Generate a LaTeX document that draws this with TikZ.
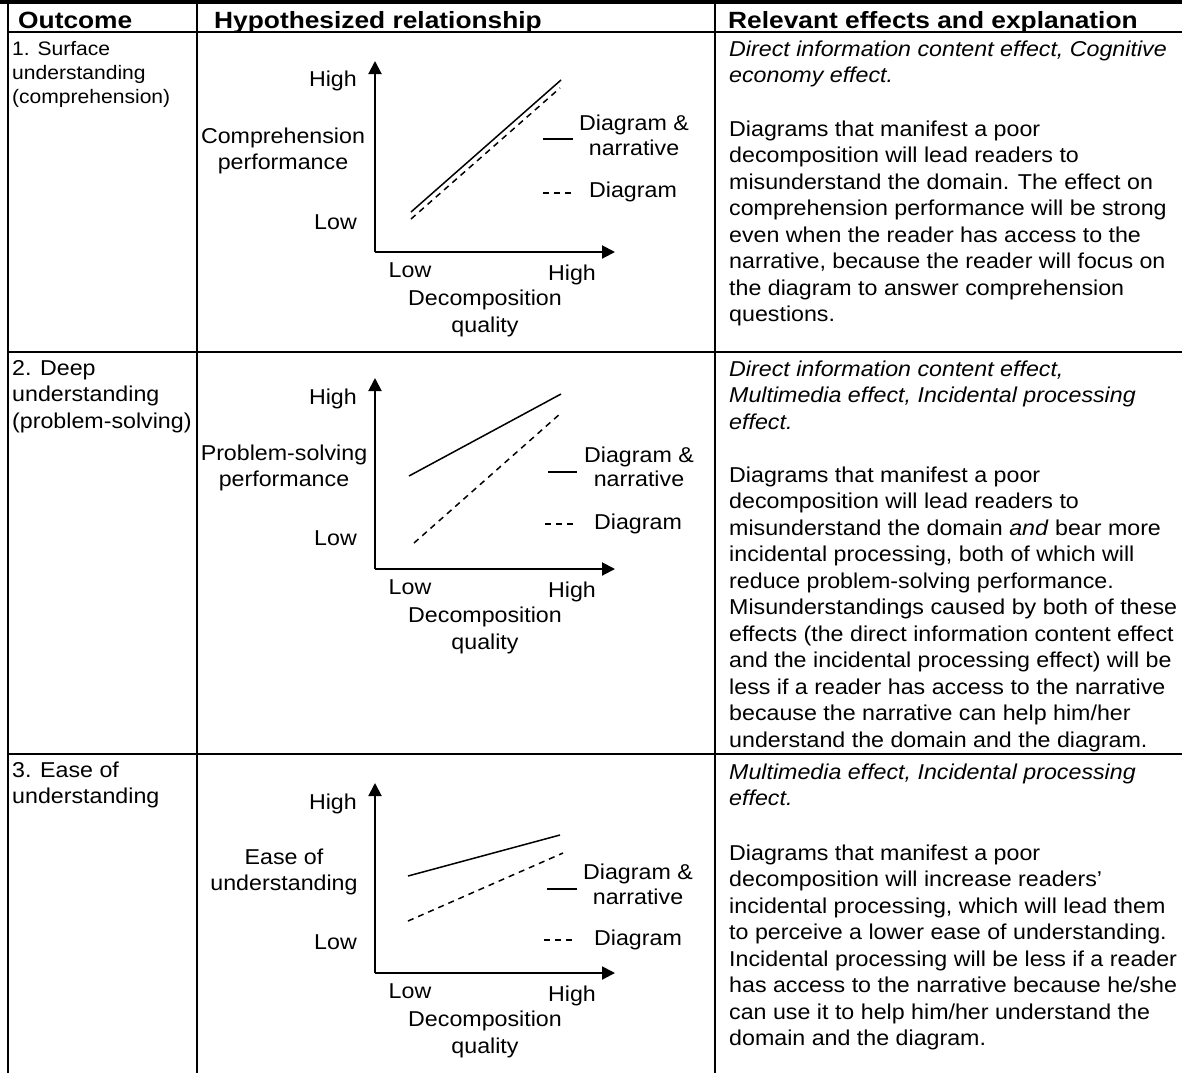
\documentclass[tikz,border=0pt]{standalone}
\usepackage{fontspec}
\setmainfont[FakeStretch=1.08]{Liberation Sans}
\newfontfamily\headfamily[FakeStretch=1.12]{Liberation Sans}
\usetikzlibrary{arrows.meta}

\newcommand\bodysize{\fontsize{21.5pt}{26.5pt}\selectfont}
\newcommand\smallsize{\fontsize{19.5pt}{24pt}\selectfont}
\newcommand\rowskip{26.5}

% one node per printed line, baselines #4 apart
\newcommand\textrows[6]{%
  \foreach \row [count=\k from 0] in {#6}{
    \node[bodytext,#5,anchor=base west] (#1\k) at (#2,{#3+\k*#4}) {\row};
  }}

\tikzset{
  bodytext/.style={font=\bodysize, inner sep=0pt, text=black},
  headtext/.style={font=\headfamily\bfseries\fontsize{23.5pt}{27pt}\selectfont, inner sep=0pt, anchor=base west},
  rule/.style={line width=2pt, line cap=rect},
  axis/.style={line width=2pt, -{Triangle[length=13pt,width=13pt]}},
  trend/.style={line width=1.5pt},
  trenddash/.style={line width=1.5pt, dash pattern=on 6pt off 5pt},
  lab/.style={bodytext, anchor=base},
  labr/.style={bodytext, anchor=base east},
}

% one small plot: #1 prefix, #2 origin y, #3 y-axis tip y
\newcommand\plotframe[3]{%
  \coordinate (#1o) at (375,#2);
  \coordinate (#1y) at (375,#3);
  \coordinate (#1x) at (615,#2);
  \draw[axis] (#1o) -- (#1y);
  \draw[axis] (#1o) -- (#1x);
  \node[lab] (#1xlow) at (410,{#2+25}) {Low};
  \node[lab] (#1xhigh) at (572,{#2+28}) {High};
  \node[lab] (#1xt1) at (485,{#2+53}) {Decomposition};
  \node[lab] (#1xt2) at (485,{#2+80}) {quality};
}

\begin{document}
\begin{tikzpicture}[x=1pt,y=-1pt]
\useasboundingbox (0,0) rectangle (1182,1072);

% ---------- table rules ----------
\fill[black] (0,0) rectangle (1182,3.5);
\draw[rule] (8,32) -- (1182,32);
\draw[rule] (8,352) -- (1182,352);
\draw[rule] (8,754) -- (1182,754);
\draw[rule] (8,0) -- (8,1072);
\draw[rule] (197,0) -- (197,1072);
\draw[rule] (715,0) -- (715,1072);

% ---------- header ----------
\node[headtext] (hout) at (18,28) {Outcome};
\node[headtext] (hrel) at (214,28) {Hypothesized relationship};
\node[headtext] (heff) at (728,28) {Relevant effects and explanation};

% ---------- row 1 ----------
\textrows{o1-}{12}{55}{24}{font=\smallsize}{{1. Surface},{understanding},{(comprehension)}}
\textrows{e1i-}{729}{56}{\rowskip}{font=\bodysize\itshape}{{Direct information content effect, Cognitive},{economy effect.}}
\textrows{e1b-}{729}{136}{\rowskip}{}{{Diagrams that manifest a poor},{decomposition will lead readers to},{misunderstand the domain.  The effect on},{comprehension performance will be strong},{even when the reader has access to the},{narrative, because the reader will focus on},{the diagram to answer comprehension},{questions.}}

\plotframe{a}{252}{61}
\node[labr] (ahigh) at (357,86) {High};
\node[labr] (alow) at (357,229) {Low};
\node[lab] (ay1) at (283,143) {Comprehension};
\node[lab] (ay2) at (283,169) {performance};
\coordinate (as1) at (411,212); \coordinate (as2) at (561,80);
\coordinate (ad1) at (411,219); \coordinate (ad2) at (560,88);
\draw[trend] (as1) -- (as2);
\draw[trenddash] (ad1) -- (ad2);
\coordinate (al1) at (543,139); \coordinate (al2) at (573,139);
\coordinate (am1) at (543,193); \coordinate (am2) at (573,193);
\draw[trend] (al1) -- (al2);
\draw[trenddash] (am1) -- (am2);
\node[lab] (aleg1) at (634,130) {Diagram \&};
\node[lab] (aleg2) at (634,155) {narrative};
\node[lab] (aleg3) at (633,197) {Diagram};

% ---------- row 2 ----------
\textrows{o2-}{12}{375}{\rowskip}{}{{2. Deep},{understanding},{(problem-solving)}}
\textrows{e2i-}{729}{376}{\rowskip}{font=\bodysize\itshape}{{Direct information content effect,},{Multimedia effect, Incidental processing},{effect.}}
\textrows{e2b-}{729}{482}{\rowskip}{}{{Diagrams that manifest a poor},{decomposition will lead readers to},{misunderstand the domain \textit{and} bear more},{incidental processing, both of which will},{reduce problem-solving performance.},{Misunderstandings caused by both of these},{effects (the direct information content effect},{and the incidental processing effect) will be},{less if a reader has access to the narrative},{because the narrative can help him/her},{understand the domain and the diagram.}}

\plotframe{b}{569}{378}
\node[labr] (bhigh) at (357,404) {High};
\node[labr] (blow) at (357,545) {Low};
\node[lab] (by1) at (284,460) {Problem-solving};
\node[lab] (by2) at (284,486) {performance};
\coordinate (bs1) at (409,476); \coordinate (bs2) at (561,394);
\coordinate (bd1) at (414,543); \coordinate (bd2) at (561,413);
\draw[trend] (bs1) -- (bs2);
\draw[trenddash] (bd1) -- (bd2);
\coordinate (bl1) at (548,472); \coordinate (bl2) at (577,472);
\coordinate (bm1) at (545,524); \coordinate (bm2) at (577,524);
\draw[trend] (bl1) -- (bl2);
\draw[trenddash] (bm1) -- (bm2);
\node[lab] (bleg1) at (639,462) {Diagram \&};
\node[lab] (bleg2) at (639,486) {narrative};
\node[lab] (bleg3) at (638,529) {Diagram};

% ---------- row 3 ----------
\textrows{o3-}{12}{777}{\rowskip}{}{{3. Ease of},{understanding}}
\textrows{e3i-}{729}{779}{\rowskip}{font=\bodysize\itshape}{{Multimedia effect, Incidental processing},{effect.}}
\textrows{e3b-}{729}{860}{\rowskip}{}{{Diagrams that manifest a poor},{decomposition will increase readers’},{incidental processing, which will lead them},{to perceive a lower ease of understanding.},{Incidental processing will be less if a reader},{has access to the narrative because he/she},{can use it to help him/her understand the},{domain and the diagram.}}

\plotframe{c}{973}{783}
\node[labr] (chigh) at (357,809) {High};
\node[labr] (clow) at (357,949) {Low};
\node[lab] (cy1) at (284,864) {Ease of};
\node[lab] (cy2) at (284,890) {understanding};
\coordinate (cs1) at (408,876); \coordinate (cs2) at (560,835);
\coordinate (cd1) at (408,921); \coordinate (cd2) at (563,853);
\draw[trend] (cs1) -- (cs2);
\draw[trenddash] (cd1) -- (cd2);
\coordinate (cl1) at (547,889); \coordinate (cl2) at (577,889);
\coordinate (cm1) at (544,940); \coordinate (cm2) at (576,940);
\draw[trend] (cl1) -- (cl2);
\draw[trenddash] (cm1) -- (cm2);
\node[lab] (cleg1) at (638,879) {Diagram \&};
\node[lab] (cleg2) at (638,904) {narrative};
\node[lab] (cleg3) at (638,945) {Diagram};

\end{tikzpicture}
\end{document}
